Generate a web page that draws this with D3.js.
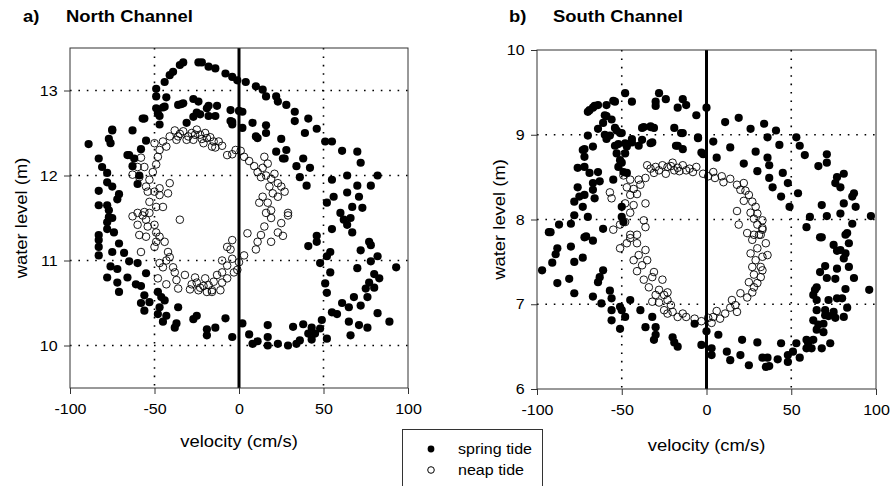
<!DOCTYPE html>
<html>
<head>
<meta charset="utf-8">
<script src="https://cdn.jsdelivr.net/npm/d3@7"></script>
<style>
  body { margin: 0; background: #fff; }
  text { font-family: Arial, "Liberation Sans", sans-serif; fill: #000; }
</style>
</head>
<body>
<svg id="chart" width="890" height="486"></svg>
<script>
// tick values
var velTicks = [-100, -50, 0, 50, 100]
var northLevelTicks = [10, 11, 12, 13]
var southLevelTicks = [6, 7, 8, 9, 10]
var velGrid = [-50, 50]
var northLevelGrid = [10, 11, 12, 13]
var southLevelGrid = [7, 8, 9]

// [velocity cm/s, water level m]
var northSpring = [
 [-89,12.37],[-83,12.20],[-77,12.43],[-75,12.53],[-76,12.38],[-63,12.53],[-66,12.24],[-56,12.67],[-55,12.41],
 [-49,13.02],[-49,12.93],[-44,13.10],[-41,13.18],[-39,13.22],[-35,13.30],[-33,13.33],[-24,13.33],[-22,13.33],
 [-18,13.28],[-14,13.26],[-8,13.20],[-4,13.16],[-1,13.12],[4,13.10],[10,13.05],[14,13.01],[16,12.93],[22,12.93],
 [23,12.87],[28,12.83],[33,12.75],[33,12.64],[41,12.67],[39,12.50],[46,12.55],[51,12.40],[55,12.40],[61,12.29],[70,12.28],
 [-49,12.79],[-44,12.81],[-47,12.70],[-47,12.60],[-36,12.83],[-33,12.85],[-43,12.92],[-27,12.90],[-25,12.74],
 [-23,12.72],[-18,12.82],[-13,12.82],[-18,12.70],[-14,12.70],[-24,12.87],[-27,12.69],[-31,12.62],[-5,12.77],
 [-5,12.64],[-4,12.60],[2,12.75],[2,12.56],[8,12.62],[16,12.59],[10,12.46],[16,12.50],[25,12.43],[22,12.28],
 [26,12.20],[38,12.20],[0,12.76],[11,12.44],[28,12.30],[27,12.20],[34,12.11],[36,11.98],[42,12.09],[40,11.88],
 [72,12.15],[82,12.00],[64,12.00],[55,11.95],[78,11.88],[70,11.88],[71,11.75],[64,11.80],[56,11.75],[52,11.68],
 [60,11.56],[67,11.63],[73,11.62],[62,11.48],[64,11.42],[67,11.33],[66,11.50],[55,11.37],[46,11.29],[46,11.22],
 [41,11.17],[77,11.22],[78,11.18],[72,11.12],[82,11.05],[78,10.99],[93,10.92],[70,10.91],[54,11.10],[52,11.05],
 [48,10.97],[54,10.86],[51,10.73],[52,10.62],[80,10.84],[83,10.79],[77,10.74],[80,10.68],[75,10.67],[76,10.57],
 [68,10.57],[72,10.47],[82,10.38],[89,10.28],[61,10.50],[65,10.45],[55,10.39],[58,10.37],[65,10.28],[71,10.24],
 [66,10.12],[76,10.21],[49,10.30],[48,10.20],[43,10.21],[45,10.14],[41,10.14],[38,10.25],[32,10.22],[43,10.07],
 [36,10.06],[34,10.02],[29,10.00],[23,10.02],[17,10.00],[17,10.10],[17,10.24],[11,10.05],[8,10.02],[6,10.13],
 [2,10.26],[52,10.08],
 [-77,11.51],[-78,11.45],[-75,11.50],[-83,11.30],[-83,11.24],[-83,11.16],[-83,11.06],[-78,11.37],[-74,11.33],
 [-71,11.20],[-75,11.10],[-68,11.09],[-65,10.99],[-60,10.97],[-76,10.93],[-72,10.90],[-78,10.80],[-72,10.74],
 [-66,10.80],[-71,10.63],[-55,10.85],[-61,10.72],[-58,10.70],[-56,10.59],[-53,10.51],[-58,10.50],[-56,10.41],
 [-48,10.63],[-46,10.57],[-44,10.53],[-47,10.45],[-48,10.37],[-43,10.35],[-45,10.28],[-36,10.45],[-37,10.26],
 [-38,10.21],[-27,10.31],[-25,10.35],[-19,10.19],[-19,10.12],[-14,10.21],[-8,10.32],[-4,10.10],
 [-75,12.54],[-81,12.10],[-78,12.03],[-78,11.92],[-75,11.87],[-71,11.78],[-72,11.72],[-83,11.82],[-83,11.65],
 [-78,11.65],[-77,11.59],[-57,12.67],[-65,12.24],[-62,12.20],[-58,12.31],[-63,12.11],[-59,12.00],[-60,11.90],
 [-45,12.80],[-48,12.73],[-34,12.84],[-19,12.79],[-4,12.63]
]

var northNeap = [
 [-38,12.53],[-35,12.49],[-30,12.46],[-25,12.54],[-23,12.48],[-19,12.44],[-15,12.40],[-10,12.35],[-7,12.24],
 [-14,12.33],[-41,12.46],[-45,12.40],[-50,12.38],[-47,12.30],[-48,12.22],[-49,12.13],[-51,12.04],[-53,11.95],
 [-55,11.87],[-58,12.21],[-56,12.10],[-60,12.10],[-63,12.01],[-59,11.98],[-54,11.81],[-50,11.81],[-47,11.85],
 [-47,11.77],[-41,11.91],[-42,11.79],[-53,11.69],[-45,11.63],[-49,11.63],[-60,11.56],[-56,11.57],[-53,11.56],
 [-31,12.42],[-37,12.42],[-27,12.42],[-21,12.38],[-16,12.34],[-43,12.34],[-33,12.52],[-28,12.50],[-20,12.50],
 [-17,12.45],[-12,12.40],[-36,12.46],[-26,12.48],[-22,12.43],
 [-63,11.52],[-60,11.42],[-57,11.53],[-55,11.48],[-54,11.40],[-50,11.42],[-59,11.30],[-55,11.28],[-49,11.33],
 [-47,11.28],[-44,11.22],[-49,11.22],[-50,11.16],[-42,11.10],[-41,11.04],[-43,11.00],[-45,10.92],[-47,10.97],
 [-39,10.92],[-38,10.86],[-48,10.79],[-43,10.72],[-37,10.77],[-36,10.67],[-32,10.83],[-58,11.10],[-35,11.48],
 [-29,10.66],[-25,10.74],[-23,10.68],[-20,10.79],[-18,10.71],[-16,10.65],[-11,10.65],[-13,10.83],[-10,10.86],
 [-10,10.74],[-7,10.79],[-7,10.94],[-10,11.00],[-4,11.02],[-5,11.13],[-4,11.24],[-7,11.16],[-3,10.86],
 [-24,10.65],[-19,10.63],[-16,10.63],[-28,10.72],[-26,10.80],[-21,10.70],[-15,10.75],
 [1,12.29],[3,12.22],[6,12.17],[9,12.11],[11,12.04],[14,12.09],[15,12.22],[17,12.14],[13,11.98],[16,12.00],
 [19,11.96],[21,12.02],[23,11.91],[25,11.87],[27,11.81],[18,11.87],[14,11.75],[17,11.68],[12,11.68],[23,11.75],
 [20,11.79],[29,11.56],[19,11.59],[5,11.32],[10,11.13],[11,11.22],[13,11.30],[19,11.22],[23,11.33],[26,11.29],
 [25,11.44],[29,11.53],[16,11.56],[19,11.50],[15,11.40],[3,11.06],[0,10.98],[-1,10.89],[-2,12.30],[-4,12.25]
]

var southSpring = [
 [-70,9.27],[-67,9.32],[-66,9.34],[-64,9.35],[-59,9.35],[-54,9.39],[-48,9.49],[-44,9.39],[-59,9.22],[-61,9.14],
 [-64,9.07],[-60,9.00],[-59,8.95],[-54,9.08],[-51,9.02],[-70,8.99],[-67,8.86],[-72,8.83],[-54,8.87],[-48,8.90],
 [-44,8.95],[-38,9.08],[-40,8.87],[-33,8.90],[-33,9.10],[-31,9.08],[-30,9.39],[-30,9.34],[-28,9.49],[-24,9.42],
 [-19,9.08],[-15,9.02],[-18,8.87],[-14,8.83],[-17,9.32],[-14,9.42],[-12,9.35],[-6,9.23],[-5,8.97],[0,9.32],
 [-2,8.77],[4,8.92],[6,8.73],[11,9.15],[14,8.85],[19,9.20],[26,9.07],[29,8.80],[34,9.13],[36,8.97],[41,9.05],
 [43,8.88],[53,8.97],[55,8.87],[58,8.76],[71,8.77],
 [-69,9.29],[-55,9.40],[-60,9.23],[-73,8.82],[-72,8.74],[-72,8.62],[-76,8.61],[-69,8.55],[-64,8.56],[-63,8.45],
 [-67,8.43],[-76,8.38],[-75,8.27],[-72,8.29],[-67,8.35],[-66,8.25],[-78,8.21],[-73,8.15],[-70,8.03],[-78,8.05],
 [-87,7.94],[-80,7.95],[-93,7.85],[-72,7.79],[-61,7.89],
 [-56,9.18],[-53,9.05],[-50,9.02],[-57,8.99],[-52,8.89],[-53,8.78],[-51,8.70],[-52,8.62],[-50,8.67],[-47,8.86],
 [-44,8.91],[-48,8.78],[-55,8.47],[-49,8.56],[-47,8.55],[-38,8.94],[-32,8.91],[-33,9.09],[-37,9.09],[-14,9.02],
 [-17,8.87],[-3,8.79],[-5,8.96],[-50,8.15],[-50,8.03],[-49,7.97],
 [36,8.73],[37,8.64],[22,8.66],[30,8.57],[45,8.55],[48,8.43],[37,8.49],[39,8.38],[44,8.27],[49,8.15],[54,8.31],
 [71,8.67],[66,8.63],[81,8.54],[77,8.50],[76,8.43],[79,8.38],[87,8.31],[86,8.27],[88,8.15],[81,8.19],[79,8.07],
 [71,8.04],[68,8.17],[61,8.03],[59,7.91],[68,7.79],[83,7.84],[86,7.95],[97,8.04],
 [-92,7.85],[-97,7.40],[-91,7.49],[-89,7.59],[-88,7.66],[-80,7.68],[-78,7.50],[-73,7.55],[-71,7.80],[-67,7.75],
 [-88,7.25],[-81,7.30],[-78,7.13],[-67,7.09],[-62,7.01],[-64,7.26],[-63,7.32],[-61,7.40],[-57,7.16],[-56,7.07],
 [-56,6.93],[-51,6.97],[-50,6.93],[-48,6.85],[-56,6.81],[-51,6.71],[-45,7.05],[-39,6.93],[-36,6.73],[-32,6.85],
 [-30,6.73],[-30,6.64],[-31,6.58],[-20,6.61],[-19,6.55],[-17,6.50],[-7,6.77],[-3,6.52],[0,6.68],[3,6.48],
 [3,6.40],[7,6.64],[12,6.44],[14,6.34],[20,6.40],[21,6.58],[25,6.28],[30,6.55],[33,6.37],[36,6.37],[35,6.26],
 [37,6.27],[42,6.35],[44,6.54],[48,6.40],[48,6.32],[51,6.44],[53,6.54],[55,6.37],[59,6.48],[59,6.58],[60,6.54],
 [63,6.58],[62,6.48],[65,6.70],[63,6.81],[66,6.76],[69,6.67],[68,6.48],[73,6.54],[69,6.77],[70,6.87],[65,6.93],
 [65,7.05],[70,6.93],[72,6.86],[76,6.84],[81,6.85],[75,6.91],[83,6.96],[80,7.07],[77,7.07],[72,7.05],[63,7.11],
 [65,7.20],[64,7.17],[82,7.18],[87,7.31],[96,7.17],[76,7.30],[71,7.31],[67,7.38],[77,7.42],[70,7.45],[84,7.44],
 [81,7.54],[82,7.60],[79,7.64],[75,7.70],[77,7.63],[84,7.72],[82,7.82],[67,7.79]
]

var southNeap = [
 [-35,8.64],[-30,8.62],[-26,8.64],[-23,8.62],[-20,8.67],[-17,8.61],[-14,8.64],[-10,8.60],[-6,8.62],[-2,8.54],
 [-24,8.54],[-31,8.55],[-36,8.49],[-40,8.47],[-39,8.41],[-45,8.47],[-49,8.52],[-47,8.38],[-43,8.36],[-45,8.29],
 [-41,8.30],[-57,8.32],[-56,8.25],[-48,8.19],[-43,8.17],[-36,8.19],[-45,8.08],[-48,7.97],[-37,7.99],[-36,7.91],
 [-55,7.88],[-51,7.94],[-45,7.82],[-41,7.82],[-28,8.58],[-33,8.60],[-19,8.58],[-12,8.58],[-8,8.56],[-21,8.63],
 [-16,8.57],
 [1,8.51],[4,8.56],[5,8.49],[9,8.51],[10,8.44],[14,8.48],[18,8.41],[22,8.43],[20,8.35],[23,8.34],[25,8.29],
 [22,8.22],[27,8.21],[29,8.15],[30,8.07],[26,8.08],[18,8.10],[28,8.01],[33,7.99],[19,7.94],[30,7.94],[33,7.90],
 [24,7.84],[28,7.82],[31,7.82],
 [-51,7.66],[-47,7.72],[-45,7.78],[-41,7.72],[-36,7.64],[-40,7.58],[-43,7.52],[-35,7.52],[-38,7.46],[-41,7.39],
 [-31,7.38],[-32,7.32],[-37,7.29],[-34,7.20],[-26,7.29],[-28,7.17],[-30,7.11],[-25,7.11],[-23,7.14],[-32,7.03],
 [-28,7.02],[-23,7.05],[-21,6.99],[-25,6.93],[-23,6.89],[-20,6.91],[-17,6.85],[-14,6.89],[-12,6.85],[-7,6.83],
 [-3,6.80],[1,6.84],[4,6.85],[3,6.78],[6,6.92],[8,6.83],[11,6.89],[14,6.96],[15,7.05],[17,6.99],[18,6.91],
 [20,7.13],[24,7.08],[27,7.14],[28,7.20],[25,7.26],[30,7.25],[32,7.32],[28,7.35],[27,7.44],[32,7.44],[33,7.40],
 [29,7.52],[33,7.56],[26,7.60],[30,7.66],[36,7.58],[35,7.72],[27,7.76],[32,7.82],[33,7.88]
]

var svg = d3.select("#chart")
var stretch = "scale(1.13,1)"

function panel(opt) {
  var x = d3.scaleLinear().domain([-100, 100]).range([opt.left, opt.right])
  var y = d3.scaleLinear().domain(opt.yDomain).range([opt.bottom, opt.top])
  var g = svg.append("g")

  // dotted grid
  g.selectAll(".hgrid").data(opt.hGrid).enter().append("line")
    .attr("x1", opt.left).attr("x2", opt.right)
    .attr("y1", function(d) { return y(d) }).attr("y2", function(d) { return y(d) })
    .attr("stroke", "#000").attr("stroke-width", 1.6).attr("stroke-dasharray", "1.6,6.8")
  g.selectAll(".vgrid").data(velGrid).enter().append("line")
    .attr("x1", function(d) { return x(d) }).attr("x2", function(d) { return x(d) })
    .attr("y1", opt.top).attr("y2", opt.bottom)
    .attr("stroke", "#000").attr("stroke-width", 1.6).attr("stroke-dasharray", "1.6,6.8")

  // zero velocity line
  g.append("line")
    .attr("x1", x(0)).attr("x2", x(0)).attr("y1", opt.top).attr("y2", opt.bottom)
    .attr("stroke", "#000").attr("stroke-width", 3)

  // frame
  g.append("rect")
    .attr("x", opt.left).attr("y", opt.top)
    .attr("width", opt.right - opt.left).attr("height", opt.bottom - opt.top)
    .attr("fill", "none").attr("stroke", "#333").attr("stroke-width", 1)

  var fmt = function(d) { return String(d) }
  var xa = g.append("g").attr("transform", "translate(0," + opt.bottom + ")")
    .call(d3.axisBottom(x).tickValues(velTicks).tickFormat(fmt).tickSize(6).tickPadding(10).tickSizeOuter(0))
  var ya = g.append("g").attr("transform", "translate(" + opt.left + ",0)")
    .call(d3.axisLeft(y).tickValues(opt.yTicks).tickFormat(fmt).tickSize(6).tickPadding(5).tickSizeOuter(0))
  ;[xa, ya].forEach(function(a) {
    a.select(".domain").remove()
    a.selectAll("line").attr("stroke", "#333")
    a.selectAll("text").attr("font-size", "14.2px").attr("font-family", "Arial, 'Liberation Sans', sans-serif")
      .attr("fill", "#000").attr("transform", stretch)
  })

  // points
  g.selectAll(".spring").data(opt.spring).enter().append("circle")
    .attr("cx", function(d) { return x(d[0]) }).attr("cy", function(d) { return y(d[1]) })
    .attr("r", 4.1).attr("fill", "#000")
  g.selectAll(".neap").data(opt.neap).enter().append("circle")
    .attr("cx", function(d) { return x(d[0]) }).attr("cy", function(d) { return y(d[1]) })
    .attr("r", 3.8).attr("fill", "none").attr("stroke", "#000").attr("stroke-width", 0.9)

  // labels
  svg.append("text").attr("transform", "translate(" + opt.tagX + ",22) " + stretch)
    .attr("font-size", "16.3px").attr("font-weight", "bold").text(opt.tag)
  svg.append("text").attr("transform", "translate(" + opt.titleX + ",22) " + stretch)
    .attr("font-size", "16.3px").attr("font-weight", "bold").text(opt.title)
  svg.append("text").attr("transform", "translate(" + x(0) + "," + opt.xTitleY + ") " + stretch)
    .attr("text-anchor", "middle").attr("font-size", "16.3px").text("velocity (cm/s)")
  svg.append("text").attr("transform", "translate(" + opt.yTitleX + "," + ((opt.top + opt.bottom) / 2) + ") rotate(-90) " + stretch)
    .attr("text-anchor", "middle").attr("font-size", "16.3px").text("water level (m)")
}

panel({
  left: 70, right: 408, top: 48, bottom: 388, yDomain: [9.5, 13.5],
  yTicks: northLevelTicks, hGrid: northLevelGrid,
  spring: northSpring, neap: northNeap,
  tag: "a)", tagX: 23, title: "North Channel", titleX: 66,
  xTitleY: 447, yTitleX: 27
})
panel({
  left: 537, right: 876, top: 50, bottom: 389, yDomain: [6, 10],
  yTicks: southLevelTicks, hGrid: southLevelGrid,
  spring: southSpring, neap: southNeap,
  tag: "b)", tagX: 509, title: "South Channel", titleX: 553,
  xTitleY: 451, yTitleX: 505
})

// legend
var lg = svg.append("g")
lg.append("rect").attr("x", 402.5).attr("y", 429.5).attr("width", 140).attr("height", 80)
  .attr("fill", "#fff").attr("stroke", "#333")
lg.append("circle").attr("cx", 431).attr("cy", 449).attr("r", 3.4).attr("fill", "#000")
lg.append("circle").attr("cx", 431).attr("cy", 470).attr("r", 3.3).attr("fill", "none").attr("stroke", "#000")
lg.append("text").attr("transform", "translate(458,454) " + stretch).attr("font-size", "14.2px").text("spring tide")
lg.append("text").attr("transform", "translate(458,475) " + stretch).attr("font-size", "14.2px").text("neap tide")
</script>
</body>
</html>
